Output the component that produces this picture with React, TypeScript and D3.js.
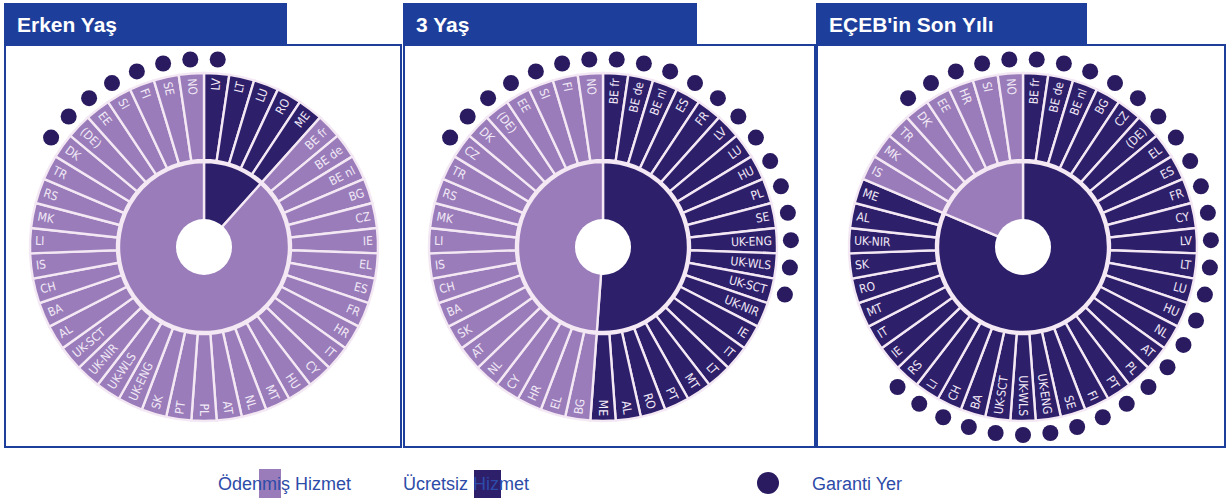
import React from "react";
import * as d3 from "d3";

// ---------- DATA ----------
const titles = ["Erken Yaş", "3 Yaş", "EÇEB'in Son Yılı"];

// Clockwise order of the segments, starting at 12 o'clock
const order1 = ["LV", "LT", "LU", "RO", "ME", "BE fr", "BE de", "BE nl", "BG", "CZ", "IE", "EL", "ES", "FR", "HR", "IT", "CY", "HU", "MT", "NL", "AT", "PL", "PT", "SK", "UK-ENG", "UK-WLS", "UK-NIR", "UK-SCT", "AL", "BA", "CH", "IS", "LI", "MK", "RS", "TR", "DK", "(DE)", "EE", "SI", "FI", "SE", "NO"];
const free1 = ["LV", "LT", "LU", "RO", "ME"];
const guaranteed1 = ["LV", "NO", "SE", "FI", "SI", "EE", "(DE)", "DK"];

const order2 = ["BE fr", "BE de", "BE nl", "ES", "FR", "LV", "LU", "HU", "PL", "SE", "UK-ENG", "UK-WLS", "UK-SCT", "UK-NIR", "IE", "IT", "LT", "MT", "PT", "RO", "AL", "ME", "BG", "EL", "HR", "CY", "NL", "AT", "SK", "BA", "CH", "IS", "LI", "MK", "RS", "TR", "CZ", "DK", "(DE)", "EE", "SI", "FI", "NO"];
const free2 = ["BE fr", "BE de", "BE nl", "ES", "FR", "LV", "LU", "HU", "PL", "SE", "UK-ENG", "UK-WLS", "UK-SCT", "UK-NIR", "IE", "IT", "LT", "MT", "PT", "RO", "AL", "ME"];
const guaranteed2 = ["BE fr", "BE de", "BE nl", "ES", "FR", "LV", "LU", "HU", "PL", "SE", "UK-ENG", "UK-WLS", "UK-SCT", "NO", "FI", "SI", "EE", "(DE)", "DK", "CZ"];

const order3 = ["BE fr", "BE de", "BE nl", "BG", "CZ", "(DE)", "EL", "ES", "FR", "CY", "LV", "LT", "LU", "HU", "NL", "AT", "PL", "PT", "FI", "SE", "UK-ENG", "UK-WLS", "UK-SCT", "BA", "CH", "LI", "RS", "IE", "IT", "MT", "RO", "SK", "UK-NIR", "AL", "ME", "IS", "MK", "TR", "DK", "EE", "HR", "SI", "NO"];
const free3 = ["BE fr", "BE de", "BE nl", "BG", "CZ", "(DE)", "EL", "ES", "FR", "CY", "LV", "LT", "LU", "HU", "NL", "AT", "PL", "PT", "FI", "SE", "UK-ENG", "UK-WLS", "UK-SCT", "BA", "CH", "LI", "RS", "IE", "IT", "MT", "RO", "SK", "UK-NIR", "AL", "ME"];
const guaranteed3 = ["BE fr", "BE de", "BE nl", "BG", "CZ", "(DE)", "EL", "ES", "FR", "CY", "LV", "LT", "LU", "HU", "NL", "AT", "PL", "PT", "FI", "SE", "UK-ENG", "UK-WLS", "UK-SCT", "BA", "CH", "LI", "RS", "NO", "SI", "HR", "EE", "DK"];

const legendLabels = ["Ödenmiş Hizmet", "Ücretsiz Hizmet", "Garanti Yer"];

// ---------- STYLE / LAYOUT ----------
const W = 1229;
const H = 501;
const BLUE = "#1d3e9a";
const LIGHT = "#9a7cba";
const DARK = "#2e1f6b";
const DOT = "#2a1a60";
const SEP = "#f3e8f3";
const LABEL = "#f1e9f6";
const LEGEND_TEXT = "#2d4ba8";

const R_OUT = 174;
const R_IN = 87;
const R_PIE = 85;
const R_HOLE = 28;
const R_DOT = 188;

const panels = [
  { x0: 5, x1: 401, hw: 283, cx: 204, cy: 247, order: order1, free: free1, guar: guaranteed1 },
  { x0: 404, x1: 815, hw: 294, cx: 603, cy: 247, order: order2, free: free2, guar: guaranteed2 },
  { x0: 817, x1: 1225, hw: 271, cx: 1023, cy: 247, order: order3, free: free3, guar: guaranteed3 },
];

function Wheel({ order, free, guar, cx, cy }: any) {
  const n = order.length;
  const segs = d3.pie<string>().value(() => 1).sort(null)(order);
  const ring = d3.arc<any>().innerRadius(R_IN).outerRadius(R_OUT);
  const freeCount = order.filter((c: string) => free.includes(c)).length;
  const inner = d3.pie<number>().sort(null)([freeCount, n - freeCount]);
  const innerArc = d3.arc<any>().innerRadius(0).outerRadius(R_PIE);
  const labelR = R_OUT - 5;
  return (
    <g transform={`translate(${cx},${cy})`}>
      {inner.map((d, i) => (
        <path key={"p" + i} d={innerArc(d) || ""} fill={i === 0 ? DARK : LIGHT} stroke={SEP} strokeWidth={2.4} />
      ))}
      {segs.map((d, i) => (
        <path key={"s" + i} d={ring(d) || ""} fill={free.includes(d.data) ? DARK : LIGHT} stroke={SEP} strokeWidth={2.4} />
      ))}
      <circle r={R_HOLE} fill="#fff" />
      {segs.map((d, i) => {
        const a = (d.startAngle + d.endAngle) / 2;
        const deg = (a * 180) / Math.PI;
        const x = labelR * Math.sin(a);
        const y = -labelR * Math.cos(a);
        const right = deg < 180;
        const rot = right ? deg - 90 : deg + 90;
        return (
          <text
            key={"t" + i}
            transform={`translate(${x},${y}) rotate(${rot})`}
            textAnchor={right ? "end" : "start"}
            dominantBaseline="central"
            fill={LABEL}
            fontFamily="'DejaVu Sans Condensed', 'DejaVu Sans', sans-serif"
            fontSize={12}
          >
            {d.data}
          </text>
        );
      })}
      {segs
        .filter((d) => guar.includes(d.data))
        .map((d, i) => {
          const a = (d.startAngle + d.endAngle) / 2;
          return <circle key={"d" + i} cx={R_DOT * Math.sin(a)} cy={-R_DOT * Math.cos(a)} r={8} fill={DOT} />;
        })}
    </g>
  );
}

export default function App() {
  return (
    <svg width={W} height={H} style={{ position: "absolute", left: 0, top: 0, background: "#fff" }}>
      {panels.map((p, i) => (
        <g key={i}>
          <rect x={p.x0} y={45} width={p.x1 - p.x0} height={402} fill="none" stroke={BLUE} strokeWidth={2} />
          <rect x={p.x0 - 1} y={3} width={p.hw} height={42} fill={BLUE} />
          <text x={p.x0 + 12} y={32} fill="#fff" fontFamily="'Liberation Sans', Arial, sans-serif" fontWeight="bold" fontSize={21}>
            {titles[i]}
          </text>
          <Wheel {...p} />
        </g>
      ))}
      <g fontFamily="'Liberation Sans', Arial, sans-serif" fontSize={18} fill={LEGEND_TEXT}>
        <rect x={259} y={469} width={22} height={29} fill={LIGHT} />
        <text x={218} y={490}>{legendLabels[0]}</text>
        <rect x={474} y={470} width={27} height={28} fill={DARK} />
        <text x={403} y={490}>{legendLabels[1]}</text>
        <circle cx={768} cy={483} r={11} fill={DOT} />
        <text x={812} y={490}>{legendLabels[2]}</text>
      </g>
    </svg>
  );
}
